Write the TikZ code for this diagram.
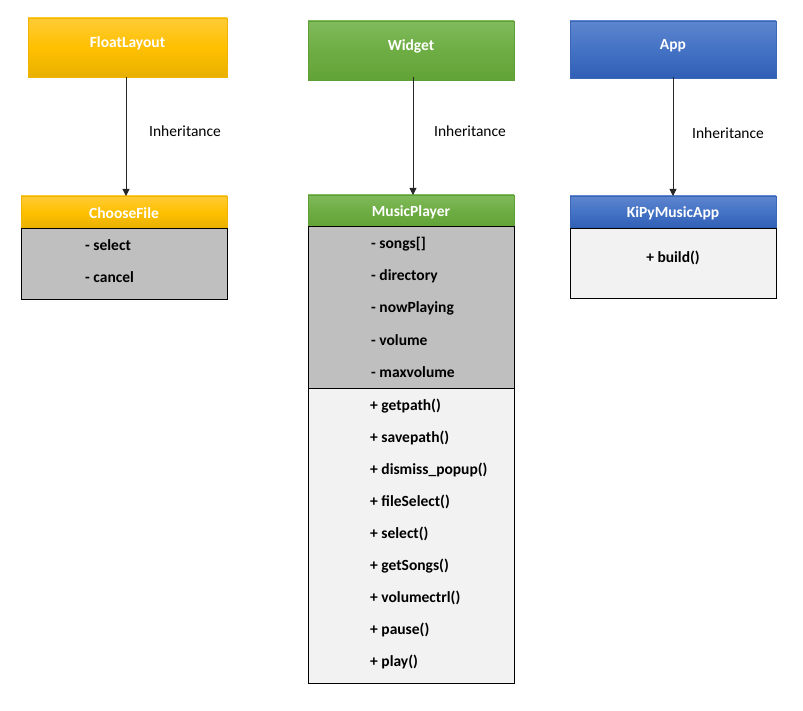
\documentclass[tikz,border=0pt]{standalone}
\usepackage{fontspec}
\setmainfont{Carlito}
\usetikzlibrary{arrows.meta}
\definecolor{ylwT}{HTML}{FFCB36}
\definecolor{ylwM}{HTML}{FFC000}
\definecolor{ylwB}{HTML}{E8B000}
\definecolor{ylwD}{HTML}{F0B400}
\definecolor{grnT}{HTML}{80BB5C}
\definecolor{grnM}{HTML}{6EAD44}
\definecolor{grnB}{HTML}{62A336}
\definecolor{grnD}{HTML}{5E9E34}
\definecolor{bluT}{HTML}{5E86CF}
\definecolor{bluM}{HTML}{4472C4}
\definecolor{bluB}{HTML}{305FB6}
\definecolor{bluD}{HTML}{3A66B8}
\definecolor{attrgray}{HTML}{BFBFBF}
\definecolor{methgray}{HTML}{F2F2F2}
\tikzset{
  hdr/.style={inner sep=0pt, text=white, font=\fontsize{15.5}{17}\selectfont\bfseries},
  ylw/.style={draw=ylwD, line width=0.6pt, top color=ylwT, bottom color=ylwB, middle color=ylwM},
  grn/.style={draw=grnD, line width=0.6pt, top color=grnT, bottom color=grnB, middle color=grnM},
  blu/.style={draw=bluD, line width=0.6pt, top color=bluT, bottom color=bluB, middle color=bluM},
  sect/.style={draw=black, line width=0.8pt},
  item/.style={anchor=west, inner sep=0pt, font=\fontsize{15.5}{17}\selectfont\bfseries},
  lbl/.style={inner sep=0pt, font=\fontsize{15.5}{17}\selectfont},
  inh/.style={-{Triangle[length=7pt,width=7pt]}, line width=0.8pt, draw=black!85}
}
\begin{document}
\begin{tikzpicture}[x=1pt,y=-1pt]
\useasboundingbox (0,0) rectangle (803,711);
% parent classes
\path[ylw] (28,18) rectangle (227,77);
\node[hdr] (float) at (127.5,43) {FloatLayout};
\coordinate (floatb) at (126,77);
\path[grn] (308,21) rectangle (514,80);
\node[hdr] (widget) at (411,46) {Widget};
\coordinate (widgetb) at (413,77);
\path[blu] (570,21) rectangle (776,78);
\node[hdr] (app) at (673,46) {App};
\coordinate (appb) at (673,77);

% ChooseFile
\path[ylw] (21,196) rectangle (227,228);
\node[hdr] (choose) at (124,213) {ChooseFile};
\coordinate (chooset) at (126,196);
\path[sect, fill=attrgray] (21,228) rectangle (227,299);
\node[item] (c1) at (85,245) {- select};
\node[item] (c2) at (85,277) {- cancel};

% MusicPlayer
\path[grn] (308,195) rectangle (514,226);
\node[hdr] (music) at (411,212) {MusicPlayer};
\coordinate (musict) at (413,195);
\path[sect, fill=attrgray] (308,226) rectangle (514,388);
\path[sect, fill=methgray] (308,388) rectangle (514,683);
\node[item] (a1) at (371,244) {- songs[]};
\node[item] (a2) at (371,276) {- directory};
\node[item] (a3) at (371,308) {- nowPlaying};
\node[item] (a4) at (371,340) {- volume};
\node[item] (a5) at (371,372) {- maxvolume};
\node[item] (m1) at (370,406) {+ getpath()};
\node[item] (m2) at (370,438) {+ savepath()};
\node[item] (m3) at (370,470) {+ dismiss\_popup()};
\node[item] (m4) at (370,502) {+ fileSelect()};
\node[item] (m5) at (370,534) {+ select()};
\node[item] (m6) at (370,566) {+ getSongs()};
\node[item] (m7) at (370,598) {+ volumectrl()};
\node[item] (m8) at (370,630) {+ pause()};
\node[item] (m9) at (370,662) {+ play()};

% KiPyMusicApp
\path[blu] (570,196) rectangle (776,228);
\node[hdr] (kipy) at (673,213) {KiPyMusicApp};
\coordinate (kipyt) at (673,196);
\path[sect, fill=methgray] (570,228) rectangle (776,298);
\node[inner sep=0pt, font=\fontsize{15.5}{17}\selectfont\bfseries] (b1) at (673,258) {+ build()};

% inheritance arrows
\draw[inh] (floatb) -- (chooset);
\draw[inh] (widgetb) -- (musict);
\draw[inh] (appb) -- (kipyt);
\node[lbl] (l1) at (185,131) {Inheritance};
\node[lbl] (l2) at (470,131) {Inheritance};
\node[lbl] (l3) at (728,133) {Inheritance};
\end{tikzpicture}
\end{document}
